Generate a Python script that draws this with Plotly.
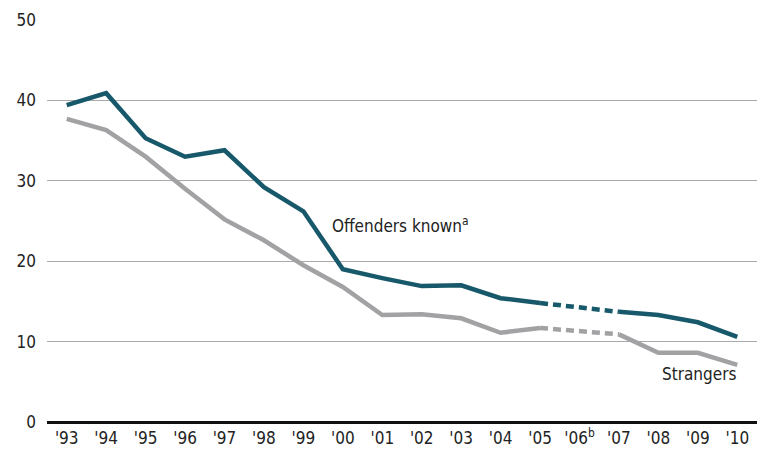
import plotly.graph_objects as go

years = ["'93", "'94", "'95", "'96", "'97", "'98", "'99", "'00", "'01", "'02",
         "'03", "'04", "'05", "'06<sup>b</sup>", "'07", "'08", "'09", "'10"]
offenders_known = [39.4, 40.9, 35.3, 33.0, 33.8, 29.2, 26.2, 19.0, 17.9, 16.9,
                   17.0, 15.4, 14.8, None, 13.7, 13.3, 12.4, 10.6]
strangers = [37.7, 36.3, 33.0, 29.0, 25.2, 22.6, 19.5, 16.8, 13.3, 13.4,
             12.9, 11.1, 11.7, None, 10.9, 8.6, 8.6, 7.1]
y_ticks = [0, 10, 20, 30, 40, 50]

TEAL = "#17596a"
GRAY = "#a2a2a5"
FONT = "DejaVu Sans Condensed, Liberation Sans Narrow, sans-serif"

x_idx = list(range(len(years)))
gap = years.index("'06<sup>b</sup>")
bridge_x = [gap - 1, gap + 1]

fig = go.Figure()
for series, color in [(strangers, GRAY), (offenders_known, TEAL)]:
    fig.add_trace(go.Scatter(x=bridge_x, y=[series[gap - 1], series[gap + 1]],
                             mode="lines", line=dict(color=color, width=4.5, dash="8px,5px"),
                             showlegend=False, hoverinfo="skip"))
    fig.add_trace(go.Scatter(x=x_idx, y=series, mode="lines", connectgaps=False,
                             line=dict(color=color, width=4.5), showlegend=False))

fig.add_annotation(x=6.68, y=24.5, xref="x", yref="y", text="Offenders known<sup>a</sup>",
                   showarrow=False, xanchor="left", yanchor="middle",
                   font=dict(family=FONT, size=17, color="#222"))
fig.add_annotation(x=17.02, y=6.0, xref="x", yref="y", text="Strangers",
                   showarrow=False, xanchor="right", yanchor="middle",
                   font=dict(family=FONT, size=17, color="#222"))

fig.update_layout(
    width=759, height=449,
    margin=dict(l=47, r=2, t=20, b=27),
    paper_bgcolor="white", plot_bgcolor="white",
    font=dict(family=FONT, size=17, color="#222"),
    xaxis=dict(tickmode="array", tickvals=x_idx, ticktext=years, range=[-0.5, len(years) - 0.5],
               showgrid=False, zeroline=False, showline=False, ticks="", fixedrange=True,
               automargin=False, ticklabelstandoff=4),
    yaxis=dict(range=[0, 50], tickvals=y_ticks, showgrid=True, gridcolor="#aaaaaa", gridwidth=1,
               zeroline=True, zerolinecolor="#111", zerolinewidth=2.5, showline=False,
               ticks="", ticklabelstandoff=10, automargin=False, fixedrange=True),
)
fig.write_html("out.html", config={"displayModeBar": False},
               post_script="document.body.style.margin='0';")
